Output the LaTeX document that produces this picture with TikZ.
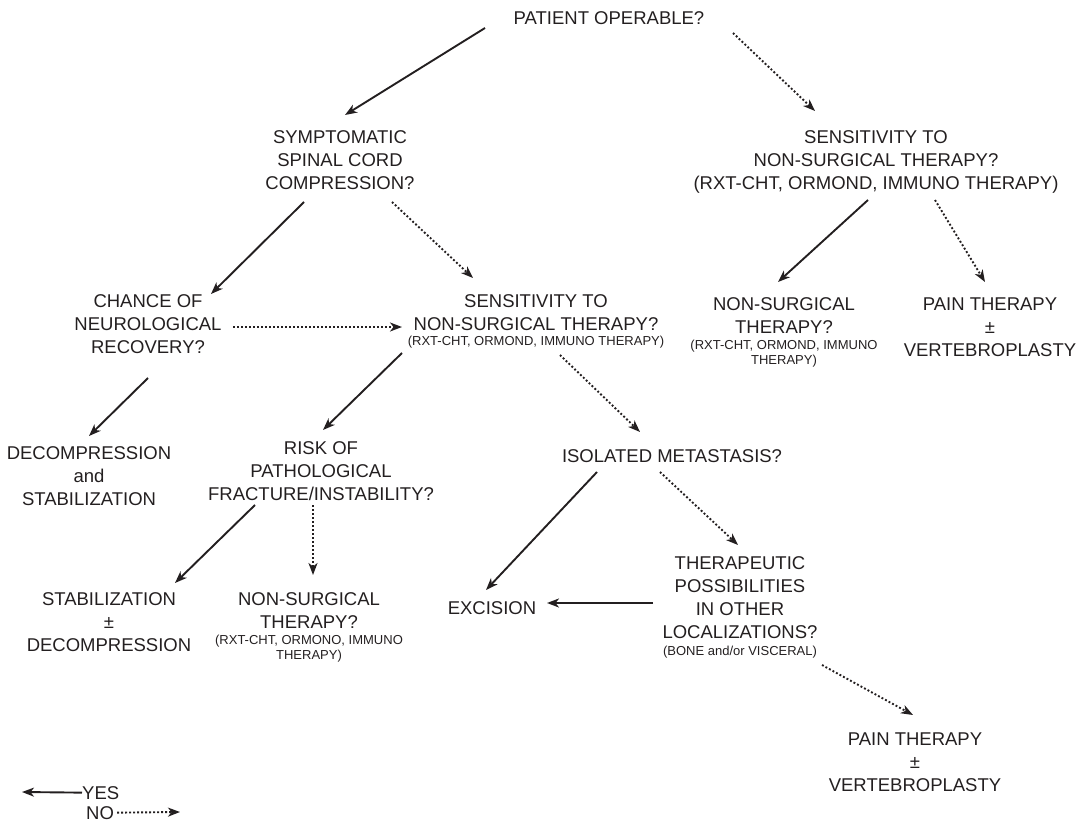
\documentclass[tikz,border=0pt]{standalone}
\usepackage{fontspec}
\setmainfont{Liberation Sans}
\usetikzlibrary{arrows.meta}
\definecolor{ink}{RGB}{35,31,32}
\newcommand\mainsz{\fontsize{18.5}{23}\selectfont}
\newcommand\smallsz{\fontsize{13}{15}\selectfont}
\newcommand\blocktext[1]{\begin{tabular}[t]{@{}c@{}}#1\end{tabular}}
\tikzset{
  txt/.style={inner sep=0pt, anchor=base, font=\mainsz, text=ink},
  yes/.style={draw=ink, line width=1.9pt, -{Stealth[length=12pt,width=9pt,inset=3.5pt]}},
  no/.style={draw=ink, line width=1.9pt, dash pattern=on 1.9pt off 2.1pt, -{Stealth[length=12pt,width=9pt,inset=3.5pt]}},
}
\begin{document}
\begin{tikzpicture}[x=1pt,y=-1pt]
\useasboundingbox (0,0) rectangle (1090,821);
% nodes
\node[txt] (op) at (609,25) {PATIENT OPERABLE?};
\node[txt] (ssc) at (340,144) {\blocktext{SYMPTOMATIC\\SPINAL CORD\\COMPRESSION?}};
\node[txt] (sensR) at (876,144) {\blocktext{SENSITIVITY TO\\NON-SURGICAL THERAPY?\\(RXT-CHT, ORMOND, IMMUNO THERAPY)}};
\node[txt] (chance) at (148,307) {\blocktext{CHANCE OF\\NEUROLOGICAL\\RECOVERY?}};
\node[txt] (sensM) at (536,307) {\blocktext{SENSITIVITY TO\\NON-SURGICAL THERAPY?\\[-7pt]\smallsz (RXT-CHT, ORMOND, IMMUNO THERAPY)}};
\node[txt] (nsR) at (784,310) {\blocktext{NON-SURGICAL\\THERAPY?\\[-7pt]\smallsz (RXT-CHT, ORMOND, IMMUNO\\[-8pt]\smallsz THERAPY)}};
\node[txt] (painR) at (990,310) {\blocktext{PAIN THERAPY\\±\\VERTEBROPLASTY}};
\node[txt] (decomp) at (89,459) {\blocktext{DECOMPRESSION\\and\\STABILIZATION}};
\node[txt] (risk) at (321,454) {\blocktext{RISK OF\\PATHOLOGICAL\\FRACTURE/INSTABILITY?}};
\node[txt] (iso) at (672,462) {ISOLATED METASTASIS?};
\node[txt] (stab) at (109,605) {\blocktext{STABILIZATION\\±\\DECOMPRESSION}};
\node[txt] (nsL) at (309,605) {\blocktext{NON-SURGICAL\\THERAPY?\\[-7pt]\smallsz (RXT-CHT, ORMONO, IMMUNO\\[-8pt]\smallsz THERAPY)}};
\node[txt] (exc) at (492,614) {EXCISION};
\node[txt] (thera) at (740,569) {\blocktext{THERAPEUTIC\\POSSIBILITIES\\IN OTHER\\LOCALIZATIONS?\\[-6pt]\smallsz (BONE and/or VISCERAL)}};
\node[txt] (painB) at (915,745) {\blocktext{PAIN THERAPY\\±\\VERTEBROPLASTY}};
% connectors
\draw[yes] ([shift={(-124,3)}]op.base) -- ([shift={(5,-29)}]ssc.base);
\draw[no]  ([shift={(124,8)}]op.base) -- ([shift={(-61,-33)}]sensR.base);
\draw[yes] ([shift={(-36,58)}]ssc.base) -- ([shift={(63,-13)}]chance.base);
\draw[no]  ([shift={(52,58)}]ssc.base) -- ([shift={(-63,-29)}]sensM.base);
\draw[no]  ([shift={(85,20)}]chance.base) -- ([shift={(-134,20)}]sensM.base);
\draw[yes] ([shift={(-8,56)}]sensR.base) -- ([shift={(-6,-28)}]nsR.base);
\draw[no]  ([shift={(59,56)}]sensR.base) -- ([shift={(-5,-28)}]painR.base);
\draw[yes] ([shift={(0,71)}]chance.base) -- ([shift={(0,-23)}]decomp.base);
\draw[yes] ([shift={(-134,46)}]sensM.base) -- ([shift={(2,-24)}]risk.base);
\draw[no]  ([shift={(24,48)}]sensM.base) -- ([shift={(-32,-30)}]iso.base);
\draw[yes] ([shift={(-66,51)}]risk.base) -- ([shift={(66,-22)}]stab.base);
\draw[no]  ([shift={(-8,51)}]risk.base) -- ([shift={(4,-30)}]nsL.base);
\draw[yes] ([shift={(-75,10)}]iso.base) -- ([shift={(-6,-24)}]exc.base);
\draw[no]  ([shift={(-12,10)}]iso.base) -- ([shift={(-2,-24)}]thera.base);
\draw[yes] ([shift={(-87,34)}]thera.base) -- ([shift={(55,-11)}]exc.base);
\draw[no]  ([shift={(82,96)}]thera.base) -- ([shift={(-2,-30)}]painB.base);
% legend
\node[txt, anchor=base west] (yesl) at (82,799) {YES};
\node[txt, anchor=base west] (nol) at (86,819) {NO};
\coordinate (yesend) at (22,792);
\coordinate (noend) at (180,812);
\draw[yes] (yesl.west) -- (yesend);
\draw[no] ([xshift=3pt]nol.east) -- (noend);
\end{tikzpicture}
\end{document}
